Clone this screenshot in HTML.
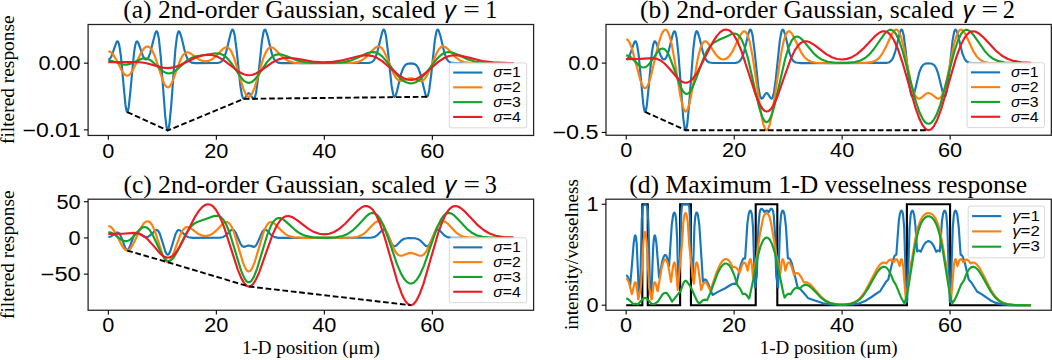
<!DOCTYPE html>
<html><head><meta charset="utf-8"><style>
html,body{margin:0;padding:0;background:#fff;}
svg{display:block;}
</style></head><body>
<svg width="1052" height="360" viewBox="0 0 1052 360">
<rect width="1052" height="360" fill="#fff"/>
<g>
<path d="M108.35,59.62 L109.70,58.99 L111.32,56.56 L114.02,49.06 L116.45,42.25 L117.26,41.31 L118.07,41.63 L119.15,44.55 L120.77,55.01 L125.36,104.22 L126.44,110.58 L126.98,111.91 L127.25,112.08 L127.79,111.41 L128.87,106.23 L131.03,84.68 L134.00,52.76 L135.35,44.55 L136.43,41.63 L137.24,41.31 L138.32,42.78 L142.91,55.97 L144.53,58.68 L145.88,59.53 L146.96,59.26 L148.31,57.70 L150.20,53.09 L155.06,33.75 L156.14,31.48 L156.68,31.24 L157.49,32.29 L158.84,38.38 L160.73,56.32 L165.32,117.46 L166.67,127.74 L167.48,130.24 L167.75,130.41 L168.29,129.74 L169.37,124.49 L171.26,104.86 L175.31,50.16 L176.93,36.70 L178.01,32.29 L178.82,31.24 L179.63,31.85 L181.25,36.59 L185.30,53.27 L187.46,58.78 L189.35,61.32 L191.51,62.58 L195.56,63.12 L217.70,62.98 L220.40,62.25 L222.29,60.77 L224.18,57.69 L226.34,51.35 L230.93,32.21 L232.01,29.87 L232.55,29.54 L233.36,30.33 L234.71,35.39 L236.87,52.33 L240.38,86.07 L242.00,95.46 L243.08,98.31 L243.89,98.86 L244.97,98.03 L247.67,93.75 L248.75,93.17 L249.83,93.75 L253.07,98.62 L253.88,98.81 L254.69,97.85 L256.04,93.01 L257.93,79.28 L261.98,40.63 L263.60,31.79 L264.41,29.89 L264.95,29.54 L265.76,30.26 L267.38,35.07 L271.70,53.24 L273.86,58.78 L275.75,61.32 L277.91,62.58 L281.96,63.12 L368.63,63.01 L371.60,62.25 L373.49,60.77 L375.38,57.69 L377.54,51.35 L382.13,32.21 L383.21,29.87 L383.75,29.54 L384.56,30.33 L385.91,35.38 L388.07,52.30 L391.58,85.71 L393.20,94.55 L394.01,96.44 L394.55,96.79 L395.36,96.07 L396.98,91.26 L401.30,73.09 L403.46,67.55 L405.35,65.01 L407.51,63.75 L411.02,63.32 L414.26,63.85 L416.42,65.27 L418.31,68.07 L420.47,74.01 L425.33,94.12 L426.41,96.46 L426.95,96.79 L427.76,96.00 L429.11,90.94 L431.27,74.03 L434.78,40.62 L436.40,31.78 L437.21,29.89 L437.75,29.54 L438.56,30.26 L440.18,35.07 L444.50,53.24 L446.66,58.78 L448.55,61.32 L450.71,62.58 L454.76,63.12 L513.35,63.16" fill="none" stroke="#1777bd" stroke-width="2.15" stroke-linejoin="round" stroke-linecap="butt"/>
<path d="M108.35,51.17 L110.24,51.71 L112.67,53.92 L115.91,59.06 L122.39,71.66 L124.82,74.73 L126.71,75.74 L128.33,75.53 L130.22,74.04 L132.92,69.92 L141.02,52.77 L143.99,48.41 L146.15,46.72 L148.04,46.46 L149.93,47.47 L152.09,50.26 L154.79,56.10 L162.89,80.69 L165.32,85.61 L166.94,87.21 L168.29,87.39 L169.91,86.21 L172.07,82.51 L176.12,71.49 L180.44,59.68 L182.87,55.19 L185.03,52.93 L186.92,52.23 L189.08,52.59 L192.59,54.81 L198.53,59.26 L202.31,60.92 L205.82,61.35 L209.33,60.64 L212.84,58.74 L217.16,54.82 L223.10,48.67 L225.53,47.32 L227.42,47.35 L229.31,48.60 L231.47,51.73 L234.17,58.16 L239.30,75.56 L243.35,88.89 L245.78,94.29 L247.40,96.26 L248.75,96.79 L250.10,96.26 L251.99,93.83 L254.69,87.36 L263.33,58.16 L266.03,51.73 L268.19,48.60 L270.08,47.35 L271.97,47.32 L274.40,48.67 L280.34,54.85 L284.93,59.06 L288.98,61.32 L293.84,62.60 L302.75,63.13 L350.81,62.98 L357.02,62.18 L361.34,60.57 L365.39,57.74 L371.33,51.44 L375.11,47.69 L377.54,46.45 L379.43,46.53 L381.32,47.72 L383.75,50.94 L387.26,58.41 L393.47,73.55 L396.17,78.09 L398.33,80.19 L400.49,80.99 L403.19,80.60 L409.13,78.33 L412.10,78.28 L416.15,79.71 L419.66,80.94 L421.82,80.83 L423.98,79.57 L426.41,76.52 L429.65,69.97 L436.40,53.49 L439.10,48.92 L441.26,46.90 L443.15,46.35 L445.31,46.98 L448.28,49.39 L455.84,57.50 L459.89,60.43 L464.21,62.11 L470.42,62.97 L513.35,63.16" fill="none" stroke="#ff800c" stroke-width="2.15" stroke-linejoin="round" stroke-linecap="butt"/>
<path d="M108.35,60.58 L112.67,61.15 L122.66,64.33 L126.71,64.61 L130.76,63.70 L141.02,58.91 L144.53,58.27 L147.77,58.82 L151.28,60.73 L156.68,65.58 L162.35,70.85 L165.86,72.90 L168.83,73.45 L171.80,72.84 L175.31,70.82 L186.92,60.60 L191.51,57.83 L196.37,56.22 L215.54,53.30 L219.59,53.58 L223.10,54.91 L226.61,57.56 L230.93,62.63 L240.92,77.45 L244.43,81.14 L247.13,82.64 L249.56,82.83 L251.99,81.90 L254.96,79.37 L259.28,73.70 L267.38,61.66 L271.16,57.55 L274.40,55.34 L277.64,54.35 L281.42,54.49 L286.82,56.21 L297.35,60.41 L304.64,62.11 L314.63,62.97 L334.07,62.97 L343.79,62.14 L350.81,60.51 L358.10,57.52 L367.55,53.06 L371.87,52.07 L375.38,52.35 L378.89,53.85 L382.67,56.86 L387.80,62.79 L397.52,75.46 L402.11,79.94 L405.89,82.31 L409.40,83.34 L412.91,83.20 L416.42,81.91 L420.47,79.03 L425.33,73.86 L436.94,58.84 L441.26,54.77 L444.77,52.78 L448.28,52.05 L452.06,52.48 L457.46,54.56 L467.99,59.55 L474.74,61.59 L483.11,62.74 L500.93,63.15 L513.35,63.16" fill="none" stroke="#14a32a" stroke-width="2.15" stroke-linejoin="round" stroke-linecap="butt"/>
<path d="M108.35,62.16 L137.78,62.02 L145.61,63.03 L162.62,67.60 L168.29,68.10 L173.69,67.42 L179.90,65.30 L196.37,57.30 L202.58,55.36 L207.98,54.75 L213.11,55.30 L218.24,57.06 L223.91,60.35 L238.76,71.75 L243.62,74.29 L247.67,75.25 L251.72,75.02 L256.04,73.53 L261.98,69.91 L272.78,62.22 L278.45,59.37 L283.58,58.00 L289.25,57.72 L297.35,58.78 L312.47,61.51 L322.73,62.25 L332.72,61.83 L342.44,60.25 L360.53,55.71 L366.47,55.18 L371.60,55.82 L376.46,57.57 L381.86,60.85 L389.96,67.65 L398.60,75.06 L403.73,78.25 L408.05,79.71 L412.10,79.91 L416.15,78.94 L420.74,76.57 L427.22,71.53 L438.56,61.66 L444.23,57.98 L449.09,56.03 L454.22,55.21 L460.16,55.58 L469.88,57.89 L482.30,60.96 L493.10,62.42 L509.03,63.05 L513.35,63.07" fill="none" stroke="#ec1c24" stroke-width="2.15" stroke-linejoin="round" stroke-linecap="butt"/>
<path d="M127.25,112.08 L167.75,130.41 L243.89,98.86 L426.95,96.79" fill="none" stroke="#000" stroke-width="1.9" stroke-dasharray="5.7,2.75"/>
</g>
<rect x="449.30" y="62.95" width="77.40" height="64.90" rx="2" ry="2" fill="#fff" fill-opacity="0.85" stroke="#d8d8d8" stroke-width="1"/>
<line x1="453.20" y1="72.55" x2="482.40" y2="72.55" stroke="#1777bd" stroke-width="2.1"/>
<text x="493.30" y="77.30" font-size="13.9" font-family="'Liberation Sans', sans-serif" textLength="27.6" lengthAdjust="spacingAndGlyphs"><tspan font-style="italic">σ</tspan><tspan>=1</tspan></text>
<line x1="453.20" y1="87.35" x2="482.40" y2="87.35" stroke="#ff800c" stroke-width="2.1"/>
<text x="493.30" y="92.10" font-size="13.9" font-family="'Liberation Sans', sans-serif" textLength="27.6" lengthAdjust="spacingAndGlyphs"><tspan font-style="italic">σ</tspan><tspan>=2</tspan></text>
<line x1="453.20" y1="102.15" x2="482.40" y2="102.15" stroke="#14a32a" stroke-width="2.1"/>
<text x="493.30" y="106.90" font-size="13.9" font-family="'Liberation Sans', sans-serif" textLength="27.6" lengthAdjust="spacingAndGlyphs"><tspan font-style="italic">σ</tspan><tspan>=3</tspan></text>
<line x1="453.20" y1="116.95" x2="482.40" y2="116.95" stroke="#ec1c24" stroke-width="2.1"/>
<text x="493.30" y="121.70" font-size="13.9" font-family="'Liberation Sans', sans-serif" textLength="27.6" lengthAdjust="spacingAndGlyphs"><tspan font-style="italic">σ</tspan><tspan>=4</tspan></text>
<rect x="88.10" y="24.50" width="445.50" height="110.95" fill="none" stroke="#222" stroke-width="1.25"/>
<line x1="108.35" y1="135.45" x2="108.35" y2="139.65" stroke="#000" stroke-width="1.1"/>
<text x="108.35" y="157.55" font-size="19.50" font-family="'Liberation Sans', sans-serif" text-anchor="middle" textLength="12.09" lengthAdjust="spacingAndGlyphs" >0</text>
<line x1="216.35" y1="135.45" x2="216.35" y2="139.65" stroke="#000" stroke-width="1.1"/>
<text x="216.35" y="157.55" font-size="19.50" font-family="'Liberation Sans', sans-serif" text-anchor="middle" textLength="24.18" lengthAdjust="spacingAndGlyphs" >20</text>
<line x1="324.35" y1="135.45" x2="324.35" y2="139.65" stroke="#000" stroke-width="1.1"/>
<text x="324.35" y="157.55" font-size="19.50" font-family="'Liberation Sans', sans-serif" text-anchor="middle" textLength="24.18" lengthAdjust="spacingAndGlyphs" >40</text>
<line x1="432.35" y1="135.45" x2="432.35" y2="139.65" stroke="#000" stroke-width="1.1"/>
<text x="432.35" y="157.55" font-size="19.50" font-family="'Liberation Sans', sans-serif" text-anchor="middle" textLength="24.18" lengthAdjust="spacingAndGlyphs" >60</text>
<line x1="83.90" y1="63.16" x2="88.10" y2="63.16" stroke="#000" stroke-width="1.1"/>
<text x="80.70" y="70.11" font-size="19.50" font-family="'Liberation Sans', sans-serif" text-anchor="end" textLength="42.30" lengthAdjust="spacingAndGlyphs" >0.00</text>
<line x1="83.90" y1="129.86" x2="88.10" y2="129.86" stroke="#000" stroke-width="1.1"/>
<text x="80.70" y="136.81" font-size="19.50" font-family="'Liberation Sans', sans-serif" text-anchor="end" textLength="58.22" lengthAdjust="spacingAndGlyphs" >−0.01</text>
<g>
<path d="M626.24,59.56 L627.59,58.92 L629.21,56.50 L631.91,49.02 L634.34,42.22 L635.15,41.28 L635.96,41.60 L637.04,44.51 L638.66,54.96 L643.25,104.07 L644.33,110.43 L644.87,111.76 L645.14,111.92 L645.68,111.25 L646.76,106.08 L648.92,84.57 L651.88,52.71 L653.23,44.51 L654.31,41.60 L655.12,41.28 L656.20,42.75 L660.79,55.92 L662.41,58.62 L663.76,59.47 L664.84,59.20 L666.19,57.64 L668.08,53.04 L672.94,33.74 L674.02,31.47 L674.56,31.23 L675.37,32.28 L676.72,38.36 L678.61,56.26 L683.19,117.29 L684.54,127.56 L685.35,130.05 L685.62,130.21 L686.16,129.54 L687.24,124.31 L689.13,104.71 L693.18,50.12 L694.80,36.68 L695.88,32.28 L696.69,31.23 L697.50,31.84 L699.12,36.58 L703.17,53.22 L705.33,58.72 L707.22,61.25 L709.38,62.52 L713.42,63.05 L735.56,62.91 L738.26,62.18 L740.14,60.70 L742.03,57.63 L744.19,51.30 L748.78,32.20 L749.86,29.86 L750.40,29.54 L751.21,30.33 L752.56,35.37 L754.72,52.28 L758.23,85.96 L759.85,95.33 L760.93,98.18 L761.74,98.73 L762.82,97.90 L765.52,93.63 L766.60,93.05 L767.68,93.63 L770.91,98.49 L771.72,98.68 L772.53,97.71 L773.88,92.89 L775.77,79.18 L779.82,40.61 L781.44,31.78 L782.25,29.88 L782.79,29.54 L783.60,30.25 L785.22,35.06 L789.54,53.19 L791.70,58.72 L793.59,61.25 L795.75,62.51 L799.79,63.05 L886.44,62.94 L889.40,62.18 L891.29,60.70 L893.18,57.63 L895.34,51.30 L899.93,32.20 L901.01,29.86 L901.55,29.54 L902.36,30.33 L903.71,35.37 L905.87,52.25 L909.38,85.60 L911.00,94.42 L911.81,96.31 L912.35,96.65 L913.16,95.94 L914.78,91.14 L919.09,73.00 L921.25,67.47 L923.14,64.94 L925.30,63.68 L928.81,63.25 L932.05,63.78 L934.21,65.20 L936.10,67.99 L938.26,73.92 L943.12,93.99 L944.20,96.33 L944.74,96.65 L945.55,95.87 L946.90,90.82 L949.05,73.94 L952.56,40.60 L954.18,31.77 L954.99,29.88 L955.53,29.54 L956.34,30.25 L957.96,35.06 L962.28,53.19 L964.44,58.72 L966.33,61.25 L968.49,62.51 L972.54,63.05 L1031.11,63.10" fill="none" stroke="#1777bd" stroke-width="2.15" stroke-linejoin="round" stroke-linecap="butt"/>
<path d="M626.24,39.16 L627.59,39.71 L629.48,42.27 L631.91,48.39 L636.23,64.60 L640.28,80.06 L642.44,85.68 L644.06,87.90 L645.14,88.29 L646.49,87.52 L648.11,84.81 L650.53,77.57 L658.90,42.35 L661.60,34.25 L663.49,30.84 L664.84,29.75 L665.92,29.75 L667.27,30.93 L669.16,34.84 L671.59,43.74 L675.10,63.08 L680.49,96.68 L682.92,107.09 L684.54,110.78 L685.62,111.57 L686.43,111.27 L687.78,109.10 L689.67,102.87 L693.18,84.54 L698.04,57.38 L700.47,47.97 L702.36,43.49 L703.98,41.60 L705.33,41.24 L706.95,41.99 L709.65,45.19 L715.85,54.63 L718.82,57.72 L721.52,59.21 L723.95,59.44 L726.38,58.60 L729.08,56.32 L732.32,51.69 L737.72,40.52 L741.22,33.74 L743.11,31.63 L744.46,31.23 L745.81,31.97 L747.43,34.61 L749.59,41.30 L752.56,56.26 L760.93,112.95 L763.36,124.31 L764.98,128.71 L766.06,130.05 L766.87,130.17 L767.95,129.17 L769.56,125.23 L771.99,114.45 L776.31,85.89 L781.17,53.10 L783.87,40.27 L785.76,34.61 L787.38,31.98 L788.73,31.23 L790.08,31.63 L791.97,33.74 L795.48,40.54 L800.87,51.83 L804.38,57.03 L807.62,60.02 L811.13,61.79 L815.99,62.76 L830.02,63.09 L866.73,62.90 L872.13,62.11 L875.91,60.54 L879.15,57.92 L882.39,53.63 L886.44,45.81 L892.10,33.54 L894.26,30.50 L895.88,29.56 L897.23,29.88 L898.85,31.78 L901.01,36.94 L903.98,48.47 L911.27,83.83 L913.97,92.89 L915.86,96.71 L917.48,98.36 L919.09,98.71 L921.25,97.71 L926.11,93.78 L928.27,93.06 L930.43,93.50 L933.67,95.88 L936.91,98.37 L938.53,98.72 L940.15,97.97 L942.04,95.33 L944.20,89.75 L947.43,76.69 L954.18,43.77 L956.88,34.66 L958.77,30.96 L960.12,29.73 L961.47,29.62 L963.09,30.78 L965.52,34.53 L973.35,51.30 L976.86,56.69 L980.09,59.83 L983.60,61.69 L988.46,62.74 L1001.15,63.09 L1031.11,63.10" fill="none" stroke="#ff800c" stroke-width="2.15" stroke-linejoin="round" stroke-linecap="butt"/>
<path d="M626.24,55.36 L628.67,55.92 L631.64,57.96 L639.20,65.62 L641.90,67.23 L644.06,67.50 L646.22,66.74 L648.92,64.39 L653.23,58.31 L658.09,51.23 L660.52,49.06 L662.41,48.45 L664.30,48.98 L666.46,51.06 L669.16,55.79 L673.21,66.31 L679.69,84.85 L682.65,90.80 L684.81,93.24 L686.43,93.88 L688.05,93.48 L689.94,91.75 L692.64,87.17 L696.96,76.34 L703.71,57.91 L707.49,50.06 L710.72,45.43 L713.96,42.50 L718.55,40.10 L726.65,36.45 L732.05,33.88 L734.75,33.49 L736.91,34.08 L739.07,35.79 L741.49,39.34 L744.46,46.31 L747.97,58.24 L754.72,88.40 L759.31,107.90 L762.28,116.92 L764.44,120.83 L766.06,122.08 L767.41,121.98 L769.03,120.48 L771.18,116.28 L774.15,106.93 L779.55,83.46 L785.22,58.60 L788.73,47.02 L791.43,40.98 L793.59,38.02 L795.48,36.72 L797.37,36.47 L799.79,37.45 L803.03,40.38 L813.56,53.23 L818.15,57.36 L822.74,60.07 L827.87,61.77 L835.15,62.74 L847.03,62.86 L855.13,62.04 L860.52,60.49 L865.11,58.01 L869.43,54.34 L874.29,48.50 L884.28,34.08 L887.52,30.90 L889.67,29.88 L891.56,29.91 L893.72,31.17 L896.15,34.27 L899.12,40.52 L902.90,51.98 L915.32,99.90 L919.36,112.00 L922.60,118.79 L925.03,122.02 L927.19,123.50 L929.08,123.71 L931.24,122.72 L933.67,120.05 L936.64,114.57 L940.42,104.34 L945.55,85.86 L954.18,51.98 L957.96,40.52 L960.93,34.27 L963.36,31.17 L965.52,29.91 L967.41,29.88 L969.84,31.10 L973.08,34.41 L984.68,50.97 L989.27,55.89 L993.59,59.04 L998.45,61.17 L1004.66,62.45 L1015.99,63.04 L1031.11,63.09" fill="none" stroke="#14a32a" stroke-width="2.15" stroke-linejoin="round" stroke-linecap="butt"/>
<path d="M626.24,59.10 L640.55,58.88 L651.88,58.07 L656.47,58.72 L660.52,60.45 L664.84,63.74 L670.78,70.26 L678.07,78.71 L681.57,81.52 L684.54,82.71 L687.24,82.64 L689.94,81.39 L693.18,78.36 L697.23,72.53 L703.71,60.09 L712.07,43.37 L716.66,36.11 L720.17,32.16 L723.14,30.14 L725.84,29.49 L728.27,29.95 L730.97,31.69 L733.94,35.17 L737.45,41.37 L741.76,51.87 L748.78,73.51 L755.53,94.49 L759.31,103.67 L762.28,108.64 L764.71,110.95 L766.60,111.57 L768.49,111.15 L770.64,109.40 L773.34,105.48 L777.12,97.27 L784.41,76.50 L790.62,59.31 L794.67,50.66 L797.91,45.74 L800.87,42.86 L803.57,41.52 L806.54,41.28 L810.05,42.34 L814.91,45.39 L826.25,54.10 L831.91,57.26 L837.04,58.96 L842.17,59.48 L847.03,58.88 L851.89,57.16 L857.02,54.07 L862.95,48.93 L875.64,35.55 L879.69,32.49 L882.66,31.35 L885.36,31.38 L888.05,32.63 L890.75,35.24 L893.99,40.26 L897.77,48.70 L902.63,63.07 L915.32,107.30 L919.63,119.27 L922.87,125.67 L925.30,128.71 L927.46,130.05 L929.35,130.12 L931.51,128.95 L933.94,126.08 L937.18,119.90 L941.23,108.97 L948.51,83.93 L956.07,57.91 L960.66,45.38 L964.17,38.36 L967.14,34.31 L969.84,32.12 L972.54,31.25 L975.24,31.55 L978.47,33.17 L983.06,37.11 L995.75,50.59 L1001.69,55.47 L1007.35,58.72 L1013.56,60.92 L1021.12,62.25 L1031.11,62.73" fill="none" stroke="#ec1c24" stroke-width="2.15" stroke-linejoin="round" stroke-linecap="butt"/>
<path d="M645.14,111.92 L685.62,130.21 L766.60,130.21 L928.54,130.21" fill="none" stroke="#000" stroke-width="1.9" stroke-dasharray="5.7,2.75"/>
</g>
<rect x="967.05" y="62.75" width="77.40" height="64.90" rx="2" ry="2" fill="#fff" fill-opacity="0.85" stroke="#d8d8d8" stroke-width="1"/>
<line x1="970.95" y1="72.35" x2="1000.15" y2="72.35" stroke="#1777bd" stroke-width="2.1"/>
<text x="1011.05" y="77.10" font-size="13.9" font-family="'Liberation Sans', sans-serif" textLength="27.6" lengthAdjust="spacingAndGlyphs"><tspan font-style="italic">σ</tspan><tspan>=1</tspan></text>
<line x1="970.95" y1="87.15" x2="1000.15" y2="87.15" stroke="#ff800c" stroke-width="2.1"/>
<text x="1011.05" y="91.90" font-size="13.9" font-family="'Liberation Sans', sans-serif" textLength="27.6" lengthAdjust="spacingAndGlyphs"><tspan font-style="italic">σ</tspan><tspan>=2</tspan></text>
<line x1="970.95" y1="101.95" x2="1000.15" y2="101.95" stroke="#14a32a" stroke-width="2.1"/>
<text x="1011.05" y="106.70" font-size="13.9" font-family="'Liberation Sans', sans-serif" textLength="27.6" lengthAdjust="spacingAndGlyphs"><tspan font-style="italic">σ</tspan><tspan>=3</tspan></text>
<line x1="970.95" y1="116.75" x2="1000.15" y2="116.75" stroke="#ec1c24" stroke-width="2.1"/>
<text x="1011.05" y="121.50" font-size="13.9" font-family="'Liberation Sans', sans-serif" textLength="27.6" lengthAdjust="spacingAndGlyphs"><tspan font-style="italic">σ</tspan><tspan>=4</tspan></text>
<rect x="606.00" y="24.45" width="445.35" height="110.80" fill="none" stroke="#222" stroke-width="1.25"/>
<line x1="626.24" y1="135.25" x2="626.24" y2="139.45" stroke="#000" stroke-width="1.1"/>
<text x="626.24" y="157.35" font-size="19.50" font-family="'Liberation Sans', sans-serif" text-anchor="middle" textLength="12.09" lengthAdjust="spacingAndGlyphs" >0</text>
<line x1="734.21" y1="135.25" x2="734.21" y2="139.45" stroke="#000" stroke-width="1.1"/>
<text x="734.21" y="157.35" font-size="19.50" font-family="'Liberation Sans', sans-serif" text-anchor="middle" textLength="24.18" lengthAdjust="spacingAndGlyphs" >20</text>
<line x1="842.17" y1="135.25" x2="842.17" y2="139.45" stroke="#000" stroke-width="1.1"/>
<text x="842.17" y="157.35" font-size="19.50" font-family="'Liberation Sans', sans-serif" text-anchor="middle" textLength="24.18" lengthAdjust="spacingAndGlyphs" >40</text>
<line x1="950.13" y1="135.25" x2="950.13" y2="139.45" stroke="#000" stroke-width="1.1"/>
<text x="950.13" y="157.35" font-size="19.50" font-family="'Liberation Sans', sans-serif" text-anchor="middle" textLength="24.18" lengthAdjust="spacingAndGlyphs" >60</text>
<line x1="601.80" y1="63.10" x2="606.00" y2="63.10" stroke="#000" stroke-width="1.1"/>
<text x="598.60" y="70.05" font-size="19.50" font-family="'Liberation Sans', sans-serif" text-anchor="end" textLength="30.22" lengthAdjust="spacingAndGlyphs" >0.0</text>
<line x1="601.80" y1="132.44" x2="606.00" y2="132.44" stroke="#000" stroke-width="1.1"/>
<text x="598.60" y="139.39" font-size="19.50" font-family="'Liberation Sans', sans-serif" text-anchor="end" textLength="46.14" lengthAdjust="spacingAndGlyphs" >−0.5</text>
<g>
<path d="M108.35,237.05 L110.78,236.53 L114.02,234.41 L116.72,232.59 L118.07,232.55 L119.42,233.58 L121.31,237.15 L125.36,248.20 L126.71,250.00 L127.52,250.13 L128.60,249.14 L130.49,244.88 L133.73,235.89 L135.35,233.28 L136.70,232.48 L138.32,232.84 L143.45,236.41 L145.88,237.02 L148.31,236.57 L151.01,234.71 L155.33,230.39 L156.68,229.95 L158.03,230.65 L159.65,233.34 L162.35,241.69 L165.32,251.51 L166.67,254.08 L167.75,254.75 L168.83,254.08 L170.45,250.80 L175.58,233.98 L177.20,230.95 L178.55,229.99 L179.90,230.23 L182.60,232.73 L185.84,235.88 L188.54,237.25 L192.86,237.87 L219.86,237.76 L223.37,236.96 L226.07,235.22 L231.20,230.00 L232.55,229.52 L233.90,230.09 L235.52,232.30 L240.65,244.16 L242.27,246.25 L243.62,246.85 L245.78,246.33 L248.48,245.45 L250.64,245.86 L253.61,246.86 L254.96,246.45 L256.58,244.61 L259.28,238.65 L262.25,231.82 L263.87,229.88 L265.22,229.55 L266.84,230.41 L271.97,235.67 L274.67,237.16 L278.72,237.84 L370.79,237.79 L374.30,237.06 L377.00,235.45 L382.40,230.00 L383.75,229.52 L385.10,230.08 L386.72,232.30 L391.85,244.05 L393.47,245.99 L394.82,246.32 L396.44,245.46 L401.57,240.20 L404.27,238.70 L408.32,238.03 L415.07,238.20 L418.31,239.16 L421.01,241.14 L425.60,245.87 L426.95,246.34 L428.30,245.78 L429.92,243.57 L435.05,231.82 L436.67,229.88 L438.02,229.55 L439.64,230.41 L444.77,235.67 L447.47,237.16 L451.52,237.84 L513.35,237.93" fill="none" stroke="#1777bd" stroke-width="2.15" stroke-linejoin="round" stroke-linecap="butt"/>
<path d="M108.35,225.94 L110.24,226.47 L112.67,228.68 L115.91,233.83 L122.39,246.44 L124.82,249.50 L126.71,250.52 L128.33,250.31 L130.22,248.81 L132.92,244.69 L141.02,227.54 L143.99,223.17 L146.15,221.48 L148.04,221.22 L149.93,222.24 L152.09,225.02 L154.79,230.87 L162.89,255.47 L165.32,260.39 L166.94,261.99 L168.29,262.17 L169.91,260.98 L172.07,257.29 L176.12,246.26 L180.44,234.45 L182.87,229.95 L185.03,227.70 L186.92,226.99 L189.08,227.36 L192.59,229.58 L198.53,234.02 L202.31,235.69 L205.82,236.12 L209.33,235.41 L212.84,233.51 L217.16,229.59 L223.10,223.43 L225.53,222.08 L227.42,222.11 L229.31,223.37 L231.47,226.49 L234.17,232.92 L239.30,250.34 L243.35,263.67 L245.78,269.07 L247.40,271.04 L248.75,271.57 L250.10,271.04 L251.99,268.61 L254.69,262.14 L263.33,232.92 L266.03,226.49 L268.19,223.37 L270.08,222.11 L271.97,222.09 L274.40,223.43 L280.34,229.61 L284.93,233.82 L288.98,236.09 L293.84,237.36 L302.75,237.90 L350.81,237.75 L357.02,236.95 L361.34,235.34 L365.39,232.51 L371.33,226.21 L375.11,222.45 L377.54,221.21 L379.43,221.29 L381.32,222.48 L383.75,225.70 L387.26,233.17 L393.47,248.32 L396.17,252.86 L398.33,254.97 L400.49,255.76 L403.19,255.37 L409.13,253.11 L412.10,253.06 L416.15,254.48 L419.66,255.72 L421.82,255.60 L423.98,254.34 L426.41,251.29 L429.65,244.74 L436.40,228.25 L439.10,223.68 L441.26,221.66 L443.15,221.12 L445.31,221.74 L448.28,224.15 L455.84,232.27 L459.89,235.20 L464.21,236.88 L470.42,237.74 L513.35,237.93" fill="none" stroke="#ff800c" stroke-width="2.15" stroke-linejoin="round" stroke-linecap="butt"/>
<path d="M108.35,232.12 L111.32,232.74 L115.10,235.05 L121.58,239.99 L124.55,241.16 L126.98,241.12 L129.68,239.93 L133.19,236.80 L139.94,229.26 L142.64,227.38 L144.80,226.93 L146.96,227.60 L149.39,229.77 L152.63,234.80 L162.08,254.77 L165.05,259.06 L167.21,260.73 L169.10,261.06 L170.99,260.34 L173.42,257.96 L176.93,252.25 L186.11,233.55 L189.89,227.79 L193.40,224.21 L197.18,221.93 L210.68,217.15 L215.27,215.77 L218.24,215.87 L220.67,217.00 L223.37,219.71 L226.34,224.75 L229.85,233.50 L235.79,253.16 L241.19,270.86 L244.16,277.90 L246.32,281.06 L247.94,282.19 L249.56,282.19 L251.45,280.77 L253.88,276.84 L257.12,268.54 L267.38,234.56 L270.89,225.85 L273.59,221.31 L276.02,218.89 L278.18,217.97 L280.61,218.13 L283.58,219.62 L288.98,224.34 L296.00,230.73 L301.13,234.05 L306.53,236.16 L313.28,237.37 L324.89,237.82 L335.96,237.31 L342.44,236.06 L347.57,233.97 L352.43,230.71 L358.10,225.24 L366.47,216.12 L369.71,213.73 L372.41,212.90 L374.84,213.33 L377.27,215.06 L379.97,218.58 L383.48,225.57 L388.61,239.48 L396.98,264.19 L401.03,273.65 L404.27,279.09 L406.97,282.01 L409.40,283.34 L411.56,283.46 L413.99,282.42 L416.69,279.80 L419.93,274.70 L423.98,265.60 L431.00,245.21 L436.94,228.19 L440.72,219.96 L443.69,215.63 L446.12,213.60 L448.55,212.89 L450.98,213.35 L454.22,215.41 L459.62,220.97 L466.91,228.82 L471.77,232.69 L476.63,235.22 L482.30,236.83 L490.67,237.70 L513.35,237.93" fill="none" stroke="#14a32a" stroke-width="2.15" stroke-linejoin="round" stroke-linecap="butt"/>
<path d="M108.35,233.93 L122.66,233.71 L134.00,232.90 L138.59,233.55 L142.64,235.29 L146.96,238.58 L152.90,245.11 L159.92,253.31 L163.70,256.40 L166.67,257.59 L169.37,257.52 L172.07,256.27 L175.31,253.24 L179.36,247.39 L185.84,234.93 L194.21,218.17 L198.80,210.89 L202.31,206.93 L205.28,204.90 L207.98,204.25 L210.41,204.71 L213.11,206.46 L216.08,209.95 L219.59,216.16 L223.91,226.68 L230.93,248.37 L237.68,269.40 L241.46,278.60 L244.43,283.58 L246.86,285.90 L248.75,286.52 L250.64,286.09 L252.80,284.35 L255.50,280.41 L259.28,272.19 L266.57,251.36 L272.78,234.14 L276.83,225.47 L280.07,220.54 L283.04,217.65 L285.74,216.30 L288.71,216.07 L292.22,217.13 L297.08,220.19 L308.42,228.92 L314.09,232.09 L319.22,233.78 L324.35,234.31 L329.21,233.71 L334.07,231.98 L339.20,228.88 L345.14,223.74 L357.83,210.32 L361.88,207.26 L364.85,206.11 L367.55,206.15 L370.25,207.40 L372.95,210.01 L376.19,215.05 L379.97,223.51 L384.83,237.91 L397.52,282.24 L401.84,294.23 L405.08,300.65 L407.51,303.70 L409.67,305.03 L411.56,305.11 L413.72,303.94 L416.15,301.06 L419.39,294.86 L423.44,283.91 L430.73,258.82 L438.29,232.73 L442.88,220.18 L446.39,213.14 L449.36,209.08 L452.06,206.89 L454.76,206.02 L457.46,206.31 L460.70,207.94 L465.29,211.89 L477.98,225.40 L483.92,230.29 L489.59,233.55 L495.80,235.75 L503.36,237.08 L513.35,237.57" fill="none" stroke="#ec1c24" stroke-width="2.15" stroke-linejoin="round" stroke-linecap="butt"/>
<path d="M127.25,250.56 L167.75,262.23 L249.02,286.52 L410.75,305.20" fill="none" stroke="#000" stroke-width="1.9" stroke-dasharray="5.7,2.75"/>
</g>
<rect x="449.30" y="237.75" width="77.40" height="64.90" rx="2" ry="2" fill="#fff" fill-opacity="0.85" stroke="#d8d8d8" stroke-width="1"/>
<line x1="453.20" y1="247.35" x2="482.40" y2="247.35" stroke="#1777bd" stroke-width="2.1"/>
<text x="493.30" y="252.10" font-size="13.9" font-family="'Liberation Sans', sans-serif" textLength="27.6" lengthAdjust="spacingAndGlyphs"><tspan font-style="italic">σ</tspan><tspan>=1</tspan></text>
<line x1="453.20" y1="262.15" x2="482.40" y2="262.15" stroke="#ff800c" stroke-width="2.1"/>
<text x="493.30" y="266.90" font-size="13.9" font-family="'Liberation Sans', sans-serif" textLength="27.6" lengthAdjust="spacingAndGlyphs"><tspan font-style="italic">σ</tspan><tspan>=2</tspan></text>
<line x1="453.20" y1="276.95" x2="482.40" y2="276.95" stroke="#14a32a" stroke-width="2.1"/>
<text x="493.30" y="281.70" font-size="13.9" font-family="'Liberation Sans', sans-serif" textLength="27.6" lengthAdjust="spacingAndGlyphs"><tspan font-style="italic">σ</tspan><tspan>=3</tspan></text>
<line x1="453.20" y1="291.75" x2="482.40" y2="291.75" stroke="#ec1c24" stroke-width="2.1"/>
<text x="493.30" y="296.50" font-size="13.9" font-family="'Liberation Sans', sans-serif" textLength="27.6" lengthAdjust="spacingAndGlyphs"><tspan font-style="italic">σ</tspan><tspan>=4</tspan></text>
<rect x="88.10" y="199.20" width="445.50" height="111.05" fill="none" stroke="#222" stroke-width="1.25"/>
<line x1="108.35" y1="310.25" x2="108.35" y2="314.45" stroke="#000" stroke-width="1.1"/>
<text x="108.35" y="332.35" font-size="19.50" font-family="'Liberation Sans', sans-serif" text-anchor="middle" textLength="12.09" lengthAdjust="spacingAndGlyphs" >0</text>
<line x1="216.35" y1="310.25" x2="216.35" y2="314.45" stroke="#000" stroke-width="1.1"/>
<text x="216.35" y="332.35" font-size="19.50" font-family="'Liberation Sans', sans-serif" text-anchor="middle" textLength="24.18" lengthAdjust="spacingAndGlyphs" >20</text>
<line x1="324.35" y1="310.25" x2="324.35" y2="314.45" stroke="#000" stroke-width="1.1"/>
<text x="324.35" y="332.35" font-size="19.50" font-family="'Liberation Sans', sans-serif" text-anchor="middle" textLength="24.18" lengthAdjust="spacingAndGlyphs" >40</text>
<line x1="432.35" y1="310.25" x2="432.35" y2="314.45" stroke="#000" stroke-width="1.1"/>
<text x="432.35" y="332.35" font-size="19.50" font-family="'Liberation Sans', sans-serif" text-anchor="middle" textLength="24.18" lengthAdjust="spacingAndGlyphs" >60</text>
<line x1="83.90" y1="201.73" x2="88.10" y2="201.73" stroke="#000" stroke-width="1.1"/>
<text x="80.70" y="208.68" font-size="19.50" font-family="'Liberation Sans', sans-serif" text-anchor="end" textLength="24.18" lengthAdjust="spacingAndGlyphs" >50</text>
<line x1="83.90" y1="237.93" x2="88.10" y2="237.93" stroke="#000" stroke-width="1.1"/>
<text x="80.70" y="244.88" font-size="19.50" font-family="'Liberation Sans', sans-serif" text-anchor="end" textLength="12.09" lengthAdjust="spacingAndGlyphs" >0</text>
<line x1="83.90" y1="274.13" x2="88.10" y2="274.13" stroke="#000" stroke-width="1.1"/>
<text x="80.70" y="281.08" font-size="19.50" font-family="'Liberation Sans', sans-serif" text-anchor="end" textLength="40.10" lengthAdjust="spacingAndGlyphs" >−50</text>
<path d="M626.15,305.20 L642.34,305.20 L642.34,204.25 L647.74,204.25 L647.74,305.20 L680.13,305.20 L680.13,204.25 L690.93,204.25 L690.93,305.20 L755.72,305.20 L755.72,204.25 L777.31,204.25 L777.31,305.20 L906.88,305.20 L906.88,204.25 L950.07,204.25 L950.07,305.20 L1031.05,305.20" fill="none" stroke="#000" stroke-width="2.1" stroke-linejoin="miter"/>
<path d="M626.15,275.18 L626.96,275.59 L628.30,278.07 L630.19,284.87 L631.54,269.95 L633.70,242.94 L634.78,236.15 L635.32,235.34 L635.86,236.59 L636.67,243.41 L638.02,273.23 L638.83,296.24 L640.18,288.24 L641.80,219.43 L642.61,208.22 L643.42,205.31 L644.50,204.58 L646.12,204.78 L646.93,205.86 L647.74,210.55 L648.55,226.87 L649.90,288.24 L650.71,294.51 L651.25,297.40 L653.14,247.36 L653.95,238.12 L654.49,235.68 L654.76,235.34 L655.30,236.15 L656.38,242.94 L659.08,277.08 L659.35,277.90 L662.05,262.17 L663.67,256.77 L664.75,255.14 L665.56,254.99 L666.64,256.30 L667.99,260.49 L669.07,265.98 L671.77,224.72 L673.11,215.06 L673.92,212.84 L674.46,212.52 L675.27,213.97 L676.08,219.17 L677.16,239.39 L678.24,281.38 L680.13,257.69 L681.21,214.37 L681.75,207.10 L682.29,204.93 L683.10,204.32 L688.23,204.40 L688.77,204.93 L689.31,207.10 L690.12,221.69 L690.93,254.83 L692.82,277.07 L694.44,226.60 L695.25,216.84 L696.06,213.19 L696.60,212.52 L697.14,212.84 L697.95,215.07 L699.30,224.75 L701.46,257.86 L702.81,280.03 L703.08,281.66 L704.43,279.66 L705.24,279.47 L706.32,280.23 L708.21,283.68 L712.53,294.92 L713.34,294.53 L717.92,291.85 L725.21,288.21 L731.69,284.29 L734.39,283.65 L736.28,283.95 L740.87,264.52 L742.76,259.54 L743.84,258.33 L744.65,258.37 L744.92,258.58 L745.19,257.48 L747.35,223.84 L748.70,213.86 L749.78,210.89 L750.32,210.55 L751.13,211.41 L751.94,214.75 L753.02,227.52 L754.91,287.48 L756.80,276.38 L758.42,226.33 L759.50,213.56 L760.31,210.11 L761.12,208.85 L761.92,208.73 L763.27,210.13 L764.35,212.06 L765.70,210.74 L767.05,210.63 L768.40,211.68 L768.67,212.06 L770.56,209.07 L771.37,208.67 L772.18,209.11 L772.99,210.93 L773.80,215.58 L774.88,232.11 L776.23,276.30 L778.12,287.38 L780.01,227.52 L781.09,214.75 L781.90,211.41 L782.71,210.55 L783.52,211.33 L784.60,215.20 L785.95,226.94 L787.84,257.48 L788.11,258.58 L788.92,258.25 L790.00,259.12 L791.62,262.79 L794.59,274.41 L797.56,287.36 L799.99,288.78 L804.04,293.23 L808.35,298.33 L814.83,300.45 L823.20,303.30 L830.49,304.55 L842.37,305.00 L853.16,304.52 L859.64,303.28 L865.04,301.12 L871.52,297.00 L878.54,292.19 L879.89,291.52 L885.83,282.10 L888.26,279.58 L892.58,261.23 L894.47,256.20 L895.54,254.87 L896.35,254.75 L898.78,221.13 L899.86,213.86 L900.94,210.89 L901.48,210.55 L902.29,211.41 L903.10,214.74 L904.18,227.50 L905.80,279.80 L906.61,302.20 L907.15,301.32 L907.96,279.80 L909.58,227.50 L910.66,214.74 L911.47,211.41 L912.28,210.55 L913.09,211.32 L914.17,215.20 L915.52,226.94 L917.14,251.55 L918.22,250.54 L919.30,250.58 L920.65,251.77 L923.89,244.84 L926.05,242.15 L927.94,241.17 L929.56,241.32 L931.45,242.66 L933.61,245.79 L936.31,251.77 L937.66,250.58 L938.74,250.54 L939.82,251.55 L941.97,221.13 L943.05,213.86 L944.13,210.89 L944.67,210.55 L945.48,211.41 L946.29,214.74 L947.37,227.50 L948.99,279.80 L949.80,301.32 L950.34,302.20 L951.42,269.08 L952.77,227.50 L953.85,214.74 L954.66,211.41 L955.47,210.55 L956.28,211.32 L957.36,215.20 L958.71,226.94 L960.60,254.75 L961.41,254.87 L962.76,256.72 L964.92,263.19 L968.70,279.58 L971.40,282.46 L977.07,291.52 L981.93,294.45 L990.56,300.41 L995.96,302.90 L1002.17,304.39 L1011.89,305.09 L1031.05,305.20" fill="none" stroke="#1777bd" stroke-width="2.15" stroke-linejoin="round"/>
<path d="M626.15,278.25 L627.23,278.92 L628.84,282.34 L631.81,294.04 L632.35,292.40 L634.51,283.18 L635.05,282.25 L635.59,282.35 L636.40,284.77 L638.29,299.47 L640.99,286.60 L643.42,241.33 L644.50,232.97 L645.04,231.98 L645.58,232.97 L646.66,241.33 L648.55,276.90 L649.09,287.41 L651.52,299.53 L651.79,299.47 L653.68,284.77 L654.49,282.35 L655.03,282.25 L655.84,283.96 L657.46,291.09 L657.73,291.13 L661.51,268.55 L663.40,261.68 L664.48,259.75 L665.29,259.31 L666.10,259.77 L667.45,262.66 L669.34,271.29 L670.96,281.95 L673.11,266.00 L673.92,262.95 L674.46,262.47 L675.27,264.58 L676.62,276.71 L677.70,289.84 L681.48,248.80 L682.02,243.73 L683.37,221.81 L684.45,214.87 L685.26,213.14 L685.80,213.14 L686.61,214.87 L687.69,221.81 L689.31,245.08 L691.74,267.87 L692.82,279.08 L693.90,283.66 L695.52,266.12 L696.33,262.78 L696.60,262.47 L697.14,262.96 L698.22,267.54 L701.19,289.99 L703.08,284.16 L704.43,282.34 L705.51,282.25 L706.86,283.55 L709.56,289.10 L710.10,290.42 L711.45,287.70 L717.12,270.87 L720.35,263.87 L722.78,260.54 L724.67,259.22 L726.56,259.06 L728.45,260.13 L730.61,262.93 L732.77,267.37 L734.66,267.02 L736.28,267.73 L738.17,270.07 L739.52,272.90 L742.22,264.71 L743.57,262.71 L744.38,262.47 L745.46,263.47 L746.81,267.06 L747.62,270.54 L747.89,270.17 L749.24,261.56 L750.05,259.25 L750.32,259.08 L750.86,259.77 L751.94,265.61 L753.02,277.35 L757.07,253.85 L759.77,235.19 L763.00,218.40 L764.35,214.87 L765.70,213.28 L766.78,213.06 L768.13,214.04 L769.48,216.70 L771.10,223.23 L774.88,245.36 L775.96,252.71 L780.01,273.93 L780.28,273.93 L781.63,261.92 L782.44,259.25 L782.71,259.08 L783.25,259.73 L784.33,264.42 L785.14,270.17 L785.41,270.54 L787.03,264.58 L788.11,262.78 L788.92,262.46 L790.00,263.29 L791.62,266.75 L794.05,275.09 L795.67,273.29 L797.02,272.95 L798.64,273.76 L800.80,276.51 L803.77,282.29 L804.31,282.34 L806.46,282.25 L808.89,283.36 L812.40,286.58 L821.31,296.93 L825.63,300.52 L829.95,302.74 L835.08,304.04 L842.37,304.49 L849.12,303.93 L853.70,302.61 L857.48,300.45 L861.26,296.86 L865.31,291.11 L871.25,279.73 L876.92,268.81 L879.89,264.71 L882.32,262.82 L884.21,262.47 L886.10,263.26 L886.37,263.47 L888.53,260.52 L890.15,259.59 L891.50,259.83 L893.12,261.46 L893.66,262.19 L895.01,259.73 L896.08,259.08 L897.16,259.77 L898.51,262.70 L899.59,266.17 L900.67,260.51 L901.21,259.24 L901.48,259.08 L902.02,259.77 L903.10,265.60 L905.80,298.67 L908.23,285.77 L909.85,273.92 L911.20,261.92 L912.01,259.25 L915.52,237.86 L918.22,226.52 L920.65,219.96 L923.08,216.00 L925.51,213.87 L927.94,213.06 L930.37,213.37 L932.80,214.87 L935.23,217.93 L937.66,223.23 L940.35,232.76 L943.32,248.61 L944.94,259.25 L945.75,261.92 L948.18,282.25 L950.88,297.54 L951.15,298.67 L953.85,265.60 L954.93,259.77 L955.47,259.08 L956.01,259.73 L957.09,264.42 L957.36,266.17 L959.25,260.66 L960.33,259.25 L961.14,259.12 L962.22,260.08 L963.30,262.19 L965.19,259.99 L966.54,259.56 L968.16,260.28 L970.32,263.08 L970.59,263.47 L972.48,262.51 L974.37,262.71 L976.53,264.17 L979.50,267.95 L984.36,276.98 L991.10,290.27 L995.15,296.34 L998.93,300.23 L1002.71,302.63 L1007.30,304.16 L1014.32,304.99 L1031.05,305.19" fill="none" stroke="#ff800c" stroke-width="2.15" stroke-linejoin="round"/>
<path d="M626.15,298.59 L628.04,299.15 L631.00,301.78 L633.43,304.13 L635.86,303.83 L637.75,304.42 L643.15,298.59 L644.77,297.91 L646.39,298.32 L648.82,300.68 L651.52,303.94 L653.68,303.96 L655.03,303.60 L658.00,301.49 L662.32,294.64 L664.21,292.96 L665.56,292.71 L667.18,293.57 L669.34,296.57 L672.04,301.56 L677.43,294.91 L680.40,291.26 L683.64,282.67 L684.99,280.90 L686.07,280.80 L687.42,282.33 L690.39,286.29 L694.98,296.55 L697.41,301.42 L698.76,302.96 L699.57,303.37 L702.81,300.34 L704.70,299.67 L706.86,300.02 L707.13,300.13 L710.10,293.40 L717.38,273.85 L720.62,267.56 L723.05,264.63 L724.94,263.53 L726.83,263.55 L728.72,264.73 L731.15,268.03 L734.12,274.78 L737.63,285.55 L740.06,288.63 L742.76,294.07 L744.65,293.81 L746.27,294.70 L748.43,297.67 L748.97,298.65 L749.51,297.37 L753.02,280.64 L757.88,255.92 L760.58,246.14 L763.00,240.53 L764.89,238.16 L766.51,237.45 L768.13,237.91 L770.02,239.95 L772.18,244.35 L774.88,253.02 L778.93,271.71 L783.52,293.93 L784.60,297.67 L786.76,294.71 L788.38,293.81 L790.00,294.05 L790.54,294.34 L793.24,289.97 L795.13,288.27 L797.02,287.81 L799.18,288.61 L799.72,288.78 L802.15,286.10 L804.31,284.93 L806.46,284.85 L809.16,286.02 L813.21,289.56 L821.31,297.94 L825.90,301.26 L830.49,303.22 L836.43,304.34 L844.80,304.51 L851.00,303.73 L855.59,302.12 L859.37,299.64 L863.15,295.73 L867.74,288.90 L876.92,272.58 L880.16,268.51 L882.59,266.90 L884.48,266.72 L886.37,267.62 L888.53,270.09 L891.23,275.45 L893.39,280.91 L895.81,284.63 L899.59,293.86 L901.48,298.33 L904.18,303.09 L904.45,303.28 L906.34,297.40 L909.04,283.19 L914.98,245.73 L917.95,232.21 L920.65,224.14 L923.08,219.69 L925.51,217.21 L927.67,216.30 L929.83,216.42 L931.99,217.62 L934.42,220.49 L936.85,225.47 L939.55,234.29 L942.78,250.28 L949.53,292.40 L951.69,301.24 L952.50,303.28 L954.93,299.34 L956.82,295.33 L960.87,285.17 L963.30,281.21 L963.84,280.62 L966.81,273.00 L969.24,268.97 L971.40,267.10 L973.29,266.68 L975.45,267.45 L978.15,269.99 L982.20,276.14 L990.83,291.62 L994.88,297.12 L998.66,300.65 L1002.71,302.95 L1007.57,304.34 L1015.67,305.07 L1031.05,305.20" fill="none" stroke="#14a32a" stroke-width="2.15" stroke-linejoin="round"/>
<rect x="968.20" y="206.10" width="76.40" height="51.80" rx="2" ry="2" fill="#fff" fill-opacity="0.85" stroke="#d8d8d8" stroke-width="1"/>
<line x1="972.10" y1="216.10" x2="1001.30" y2="216.10" stroke="#1777bd" stroke-width="2.1"/>
<text x="1012.20" y="220.85" font-size="13.9" font-family="'Liberation Sans', sans-serif" textLength="27.6" lengthAdjust="spacingAndGlyphs"><tspan font-style="italic">γ</tspan><tspan>=1</tspan></text>
<line x1="972.10" y1="231.40" x2="1001.30" y2="231.40" stroke="#ff800c" stroke-width="2.1"/>
<text x="1012.20" y="236.15" font-size="13.9" font-family="'Liberation Sans', sans-serif" textLength="27.6" lengthAdjust="spacingAndGlyphs"><tspan font-style="italic">γ</tspan><tspan>=2</tspan></text>
<line x1="972.10" y1="246.70" x2="1001.30" y2="246.70" stroke="#14a32a" stroke-width="2.1"/>
<text x="1012.20" y="251.45" font-size="13.9" font-family="'Liberation Sans', sans-serif" textLength="27.6" lengthAdjust="spacingAndGlyphs"><tspan font-style="italic">γ</tspan><tspan>=3</tspan></text>
<rect x="605.90" y="199.20" width="445.40" height="111.05" fill="none" stroke="#222" stroke-width="1.25"/>
<line x1="626.15" y1="310.25" x2="626.15" y2="314.45" stroke="#000" stroke-width="1.1"/>
<text x="626.15" y="332.35" font-size="19.50" font-family="'Liberation Sans', sans-serif" text-anchor="middle" textLength="12.09" lengthAdjust="spacingAndGlyphs" >0</text>
<line x1="734.12" y1="310.25" x2="734.12" y2="314.45" stroke="#000" stroke-width="1.1"/>
<text x="734.12" y="332.35" font-size="19.50" font-family="'Liberation Sans', sans-serif" text-anchor="middle" textLength="24.18" lengthAdjust="spacingAndGlyphs" >20</text>
<line x1="842.10" y1="310.25" x2="842.10" y2="314.45" stroke="#000" stroke-width="1.1"/>
<text x="842.10" y="332.35" font-size="19.50" font-family="'Liberation Sans', sans-serif" text-anchor="middle" textLength="24.18" lengthAdjust="spacingAndGlyphs" >40</text>
<line x1="950.07" y1="310.25" x2="950.07" y2="314.45" stroke="#000" stroke-width="1.1"/>
<text x="950.07" y="332.35" font-size="19.50" font-family="'Liberation Sans', sans-serif" text-anchor="middle" textLength="24.18" lengthAdjust="spacingAndGlyphs" >60</text>
<line x1="601.70" y1="305.20" x2="605.90" y2="305.20" stroke="#000" stroke-width="1.1"/>
<text x="598.50" y="312.15" font-size="19.50" font-family="'Liberation Sans', sans-serif" text-anchor="end" textLength="12.09" lengthAdjust="spacingAndGlyphs" >0</text>
<line x1="601.70" y1="204.25" x2="605.90" y2="204.25" stroke="#000" stroke-width="1.1"/>
<text x="598.50" y="211.20" font-size="19.50" font-family="'Liberation Sans', sans-serif" text-anchor="end" textLength="12.09" lengthAdjust="spacingAndGlyphs" >1</text>
<text x="123.20" y="17.90" font-size="24.2" font-family="'Liberation Serif', serif" textLength="312.40" lengthAdjust="spacingAndGlyphs">(a) 2nd-order Gaussian, scaled</text>
<text x="443.70" y="17.90" font-size="24.2" font-family="'Liberation Sans', sans-serif" font-style="italic">γ</text>
<text x="463.30" y="17.90" font-size="24.2" font-family="'Liberation Serif', serif" textLength="16.5" lengthAdjust="spacingAndGlyphs">=</text>
<text x="485.30" y="17.90" font-size="24.2" font-family="'Liberation Serif', serif">1</text>
<text x="640.05" y="17.90" font-size="24.2" font-family="'Liberation Serif', serif" textLength="313.65" lengthAdjust="spacingAndGlyphs">(b) 2nd-order Gaussian, scaled</text>
<text x="962.60" y="17.90" font-size="24.2" font-family="'Liberation Sans', sans-serif" font-style="italic">γ</text>
<text x="981.50" y="17.90" font-size="24.2" font-family="'Liberation Serif', serif" textLength="16.5" lengthAdjust="spacingAndGlyphs">=</text>
<text x="1002.80" y="17.90" font-size="24.2" font-family="'Liberation Serif', serif">2</text>
<text x="123.40" y="192.70" font-size="24.2" font-family="'Liberation Serif', serif" textLength="312.00" lengthAdjust="spacingAndGlyphs">(c) 2nd-order Gaussian, scaled</text>
<text x="444.20" y="192.70" font-size="24.2" font-family="'Liberation Sans', sans-serif" font-style="italic">γ</text>
<text x="463.60" y="192.70" font-size="24.2" font-family="'Liberation Serif', serif" textLength="16.5" lengthAdjust="spacingAndGlyphs">=</text>
<text x="484.80" y="192.70" font-size="24.2" font-family="'Liberation Serif', serif">3</text>
<text x="629.20" y="192.50" font-size="24.2" font-family="'Liberation Serif', serif" textLength="397.90" lengthAdjust="spacingAndGlyphs">(d) Maximum 1-D vesselness response</text>
<text transform="translate(13.60,79.70) rotate(-90)" x="0" y="0" font-size="19.40" font-family="'Liberation Serif', serif" text-anchor="middle">filtered response</text>
<text transform="translate(13.60,254.70) rotate(-90)" x="0" y="0" font-size="19.40" font-family="'Liberation Serif', serif" text-anchor="middle">filtered response</text>
<text transform="translate(577.50,254.60) rotate(-90)" x="0" y="0" font-size="19.15" font-family="'Liberation Serif', serif" text-anchor="middle">intensity/vesselness</text>
<text x="310.85" y="353.80" font-size="19" font-family="'Liberation Serif', serif" text-anchor="middle">1-D position (μm)</text>
<text x="828.60" y="353.80" font-size="19" font-family="'Liberation Serif', serif" text-anchor="middle">1-D position (μm)</text>
</svg>
</body></html>
